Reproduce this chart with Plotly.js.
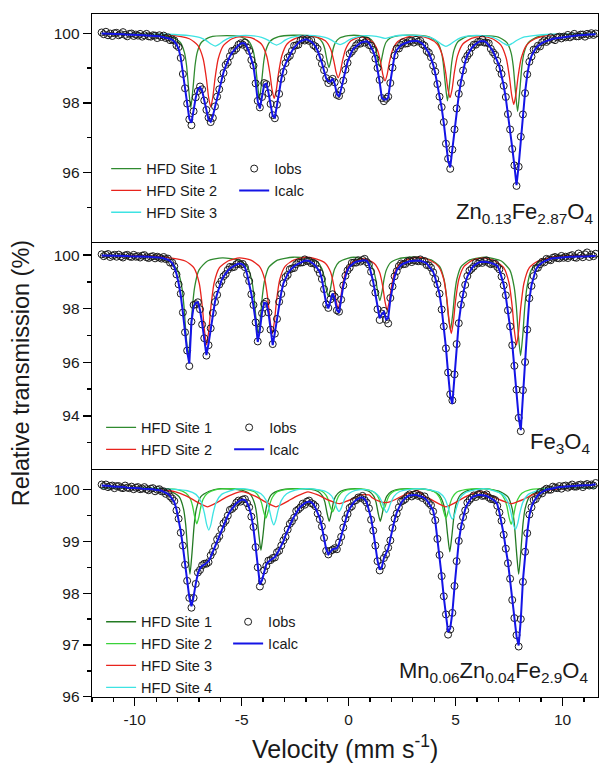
<!DOCTYPE html>
<html>
<head>
<meta charset="utf-8">
<script src="https://cdn.plot.ly/plotly-3.0.1.min.js"></script>
<style>html,body{margin:0;padding:0;background:#fff;}#chart{width:600px;height:763px;}</style>
</head>
<body>
<div id="chart"></div>
<script>
// ---- velocity channel grid (mm/s) ----
const velocityStart = -11.55;
const velocityStep = 0.1;

// ---- Panel 1 : Zn0.13Fe2.87O4 ----
const znIobs = [
100.02,99.97,100.04,99.94,99.99,99.92,100.00,100.01,99.94,99.97,
100.03,99.95,99.91,99.98,99.99,99.92,99.96,99.93,99.98,99.90,
99.94,99.98,99.91,99.90,99.94,99.93,99.86,99.94,99.89,99.93,
99.86,99.88,99.80,99.82,99.79,99.65,99.60,99.29,98.83,98.42,
97.98,97.53,97.36,97.76,98.16,98.34,98.47,98.39,98.07,97.80,
97.58,97.45,97.57,97.90,98.18,98.39,98.67,98.86,99.09,99.16,
99.34,99.49,99.50,99.56,99.67,99.71,99.67,99.73,99.59,99.49,
99.23,99.07,98.56,98.06,97.87,98.17,98.57,98.54,98.28,97.97,
97.65,97.56,97.95,98.26,98.69,98.89,99.14,99.30,99.35,99.49,
99.64,99.65,99.67,99.79,99.83,99.79,99.83,99.78,99.80,99.66,
99.62,99.55,99.31,99.12,98.94,98.71,98.57,98.64,98.69,98.59,
98.23,98.20,98.36,98.64,98.95,99.15,99.41,99.47,99.55,99.65,
99.71,99.70,99.80,99.73,99.78,99.66,99.64,99.52,99.27,99.00,
98.66,98.14,98.05,98.12,98.18,98.57,99.01,99.36,99.56,99.56,
99.66,99.74,99.70,99.71,99.78,99.78,99.73,99.81,99.76,99.78,
99.68,99.64,99.49,99.44,99.31,99.07,98.90,98.54,98.18,97.88,
97.45,96.83,96.40,96.11,96.66,97.24,97.84,98.26,98.57,98.93,
99.24,99.35,99.43,99.59,99.67,99.67,99.75,99.75,99.82,99.73,
99.73,99.71,99.55,99.45,99.38,99.21,98.99,98.83,98.49,98.17,
97.68,97.24,96.68,96.21,95.62,96.17,97.03,97.67,98.28,98.82,
99.18,99.33,99.53,99.53,99.64,99.62,99.74,99.79,99.75,99.80,
99.88,99.83,99.80,99.88,99.90,99.85,99.90,99.88,99.95,99.88,
99.92,99.98,99.91,99.91,99.96,99.96,99.90,99.98,99.95,100.00,
99.95,99.99];
const znIcalc = [
99.99,99.99,99.99,99.98,99.98,99.98,99.98,99.97,99.97,99.97,
99.97,99.96,99.96,99.96,99.96,99.95,99.95,99.95,99.94,99.94,
99.94,99.93,99.93,99.93,99.92,99.92,99.91,99.91,99.90,99.89,
99.88,99.86,99.84,99.81,99.76,99.68,99.55,99.30,98.85,98.40,
97.95,97.55,97.43,97.80,98.15,98.40,98.45,98.35,98.10,97.80,
97.52,97.46,97.62,97.88,98.15,98.42,98.66,98.88,99.05,99.20,
99.34,99.44,99.52,99.59,99.65,99.70,99.72,99.70,99.60,99.45,
99.25,99.05,98.60,98.05,97.84,98.20,98.52,98.55,98.30,97.95,
97.62,97.58,97.90,98.30,98.68,98.95,99.12,99.26,99.38,99.49,
99.58,99.66,99.72,99.77,99.80,99.82,99.82,99.80,99.76,99.70,
99.62,99.50,99.33,99.15,98.92,98.70,98.62,98.61,98.70,98.55,
98.25,98.18,98.40,98.63,98.92,99.18,99.36,99.48,99.57,99.63,
99.68,99.72,99.75,99.77,99.77,99.72,99.62,99.48,99.30,99.00,
98.60,98.15,98.10,98.10,98.15,98.60,99.00,99.38,99.52,99.60,
99.66,99.69,99.72,99.74,99.76,99.77,99.78,99.78,99.77,99.74,
99.70,99.62,99.53,99.43,99.28,99.10,98.85,98.55,98.20,97.86,
97.42,96.85,96.35,96.15,96.65,97.30,97.82,98.22,98.60,98.93,
99.18,99.36,99.48,99.57,99.64,99.70,99.74,99.77,99.78,99.77,
99.73,99.66,99.57,99.48,99.36,99.20,99.04,98.80,98.50,98.13,
97.70,97.22,96.72,96.20,95.64,96.20,96.98,97.68,98.30,98.80,
99.15,99.35,99.48,99.57,99.63,99.68,99.72,99.75,99.78,99.80,
99.82,99.84,99.85,99.86,99.87,99.88,99.89,99.90,99.91,99.92,
99.92,99.93,99.93,99.94,99.94,99.95,99.95,99.95,99.96,99.96,
99.97,99.97];
const znSite1X = [-11.55,-9.5,
-8.28,-7.88,-7.68,-7.58,-7.48,-7.38,-7.28,-7.18,-7.08,-6.88,-6.48,-5.7,
-5.07,-4.67,-4.47,-4.37,-4.27,-4.17,-4.07,-3.97,-3.87,-3.67,-3.27,-2.6,
-1.82,-1.42,-1.22,-1.12,-1.02,-0.92,-0.82,-0.72,-0.62,-0.42,-0.02,0.25,
0.55,0.95,1.15,1.25,1.35,1.45,1.55,1.65,1.75,1.95,2.35,3.0,
3.72,4.12,4.32,4.42,4.52,4.62,4.72,4.82,4.92,5.12,5.52,6.3,
7.0,7.4,7.6,7.7,7.8,7.9,8.0,8.1,8.2,8.4,8.8,9.5,11.55];
const znSite1Y = [99.98,99.97,
99.89,99.74,99.45,99.08,98.40,97.86,98.40,99.08,99.45,99.74,99.89,99.93,
99.90,99.77,99.51,99.18,98.59,98.11,98.59,99.18,99.51,99.77,99.90,99.94,
99.93,99.86,99.73,99.56,99.25,99.01,99.25,99.56,99.73,99.86,99.93,99.94,
99.93,99.86,99.74,99.57,99.28,99.04,99.28,99.57,99.74,99.86,99.93,99.94,
99.90,99.76,99.50,99.16,98.55,98.06,98.55,99.16,99.50,99.76,99.90,99.93,
99.89,99.73,99.43,99.04,98.33,97.76,98.33,99.04,99.43,99.73,99.89,99.96,99.98];
const znSite2X = [-11.55,-8.5,
-7.45,-7.05,-6.8,-6.65,-6.55,-6.45,-6.35,-6.25,-6.1,-5.85,-5.45,-5.0,
-4.48,-4.08,-3.83,-3.68,-3.58,-3.48,-3.38,-3.28,-3.13,-2.88,-2.48,-2.0,
-1.49,-1.09,-0.84,-0.69,-0.59,-0.49,-0.39,-0.29,-0.14,0.11,0.51,
0.70,1.10,1.35,1.50,1.60,1.70,1.80,1.90,2.05,2.30,2.70,3.2,
3.74,4.14,4.39,4.54,4.64,4.74,4.84,4.94,5.09,5.34,5.74,6.25,
6.72,7.12,7.37,7.52,7.62,7.72,7.82,7.92,8.07,8.32,8.72,9.5,11.55];
const znSite2Y = [99.98,99.95,
99.84,99.65,99.26,98.69,98.17,97.88,98.17,98.69,99.26,99.65,99.84,99.90,
99.85,99.69,99.34,98.84,98.38,98.13,98.38,98.84,99.34,99.69,99.85,99.92,
99.89,99.78,99.54,99.20,98.89,98.72,98.89,99.20,99.54,99.78,99.89,
99.88,99.76,99.51,99.15,98.81,98.63,98.81,99.15,99.51,99.76,99.88,99.92,
99.85,99.69,99.35,98.86,98.40,98.15,98.40,98.86,99.35,99.69,99.85,99.90,
99.84,99.66,99.28,98.74,98.24,97.96,98.24,98.74,99.28,99.66,99.84,99.95,99.98];
const znSite3X = [-11.55,-8.5,
-7.44,-6.94,-6.64,-6.44,-6.24,-6.04,-5.84,-5.54,-5.04,
-4.57,-4.07,-3.77,-3.57,-3.37,-3.17,-2.97,-2.67,-2.17,
-1.6,-1.1,-0.8,-0.6,-0.4,-0.2,0.0,0.3,0.8,
1.3,1.7,2.1,2.5,
3.35,3.85,4.15,4.35,4.55,4.75,4.95,5.25,5.75,
6.25,6.75,7.05,7.25,7.45,7.65,7.85,8.15,8.65,9.5,11.55];
const znSite3Y = [99.99,99.97,
99.93,99.87,99.78,99.69,99.63,99.69,99.78,99.87,99.93,
99.93,99.88,99.80,99.71,99.66,99.71,99.80,99.88,99.93,
99.93,99.88,99.80,99.72,99.67,99.72,99.80,99.88,99.93,
99.91,99.85,99.91,99.94,
99.93,99.87,99.77,99.68,99.62,99.68,99.77,99.87,99.93,
99.93,99.88,99.79,99.71,99.65,99.71,99.79,99.88,99.93,99.97,99.99];

// ---- Panel 2 : Fe3O4 ----
const feIobs = [
100.03,99.96,100.01,100.04,99.93,99.98,100.01,99.94,100.02,99.95,
99.91,99.99,100.01,99.95,99.93,100.01,99.94,99.96,99.91,99.98,
100.00,99.92,99.89,99.94,99.96,99.88,99.94,99.91,99.87,99.93,
99.85,99.87,99.72,99.72,99.58,99.28,98.91,98.56,97.86,97.12,
96.44,95.86,97.52,98.14,98.17,98.24,97.98,97.41,96.90,96.25,
96.64,97.27,97.84,98.25,98.52,98.90,99.03,99.21,99.29,99.45,
99.56,99.54,99.56,99.66,99.71,99.65,99.67,99.55,99.27,99.03,
98.54,98.14,97.49,96.78,97.23,97.83,98.18,98.26,97.86,97.22,
96.68,97.07,97.62,98.26,98.55,98.95,99.18,99.26,99.47,99.50,
99.52,99.66,99.73,99.72,99.73,99.84,99.78,99.79,99.70,99.71,
99.66,99.48,99.33,99.11,98.73,98.16,98.03,98.35,98.54,98.45,
97.94,97.89,98.34,98.87,99.23,99.43,99.53,99.71,99.72,99.72,
99.81,99.76,99.82,99.86,99.74,99.65,99.38,98.96,98.60,97.98,
97.58,97.82,97.92,97.59,97.45,98.40,98.83,99.21,99.40,99.59,
99.69,99.66,99.67,99.76,99.80,99.74,99.81,99.80,99.77,99.84,
99.76,99.78,99.63,99.62,99.53,99.36,99.11,98.91,98.56,97.97,
97.34,96.52,95.62,94.81,94.58,95.55,96.68,97.46,98.15,98.53,
98.89,99.22,99.42,99.49,99.57,99.72,99.69,99.75,99.71,99.78,
99.80,99.71,99.66,99.69,99.68,99.56,99.47,99.20,98.87,98.50,
97.94,97.34,96.64,95.87,94.98,93.93,93.43,94.96,96.01,97.22,
98.39,98.85,99.22,99.51,99.53,99.66,99.75,99.73,99.86,99.83,
99.81,99.90,99.93,99.89,99.88,99.97,99.90,99.94,99.89,99.97,
100.00,99.92,99.90,100.06,99.98,99.92,100.03,100.10,99.93,100.02,
99.96,100.05];
const feIcalc = [
99.99,99.99,99.99,99.98,99.98,99.98,99.98,99.98,99.97,99.97,
99.97,99.97,99.97,99.96,99.96,99.96,99.96,99.95,99.95,99.95,
99.94,99.94,99.94,99.93,99.93,99.92,99.92,99.91,99.90,99.88,
99.86,99.83,99.78,99.70,99.55,99.30,98.95,98.50,97.85,97.15,
96.40,95.95,97.50,98.08,98.22,98.24,97.95,97.45,96.85,96.27,
96.70,97.25,97.80,98.26,98.55,98.85,99.05,99.20,99.33,99.42,
99.50,99.56,99.61,99.65,99.68,99.69,99.65,99.55,99.30,98.98,
98.55,98.10,97.55,96.76,97.20,97.85,98.22,98.20,97.85,97.25,
96.64,97.10,97.60,98.20,98.60,98.95,99.15,99.30,99.42,99.52,
99.58,99.64,99.69,99.73,99.76,99.79,99.80,99.78,99.74,99.68,
99.60,99.50,99.38,99.10,98.70,98.20,98.01,98.35,98.57,98.40,
97.95,97.85,98.40,98.85,99.20,99.45,99.57,99.65,99.71,99.75,
99.77,99.79,99.80,99.80,99.79,99.65,99.35,99.00,98.55,98.00,
97.64,97.80,97.88,97.60,97.65,98.35,98.85,99.20,99.44,99.56,
99.63,99.68,99.72,99.75,99.77,99.78,99.79,99.80,99.80,99.79,
99.77,99.74,99.69,99.60,99.50,99.38,99.15,98.85,98.55,98.00,
97.30,96.55,95.60,94.75,94.45,95.55,96.65,97.50,98.10,98.55,
98.95,99.20,99.38,99.50,99.60,99.67,99.71,99.74,99.75,99.75,
99.74,99.73,99.71,99.68,99.65,99.60,99.45,99.20,98.90,98.45,
97.95,97.30,96.70,95.85,94.95,93.95,93.47,94.90,96.00,97.25,
98.35,98.88,99.20,99.45,99.58,99.66,99.72,99.77,99.81,99.85,
99.87,99.88,99.89,99.90,99.91,99.92,99.92,99.93,99.93,99.94,
99.94,99.94,99.95,99.95,99.95,99.96,99.96,99.96,99.96,99.97,
99.97,99.97];
const feSite1X = [-11.55,-9.5,
-8.4,-8.0,-7.8,-7.7,-7.6,-7.5,-7.4,-7.3,-7.2,-7.0,-6.6,-5.9,
-5.13,-4.73,-4.53,-4.43,-4.33,-4.23,-4.13,-4.03,-3.93,-3.73,-3.33,-2.6,
-1.85,-1.45,-1.25,-1.15,-1.05,-0.95,-0.85,-0.75,-0.65,-0.45,-0.05,0.25,
0.56,0.96,1.16,1.26,1.36,1.46,1.56,1.66,1.76,1.96,2.36,3.1,
3.86,4.26,4.46,4.56,4.66,4.76,4.86,4.96,5.06,5.26,5.66,6.4,
7.14,7.54,7.74,7.84,7.94,8.04,8.14,8.24,8.34,8.54,8.94,9.7,11.55];
const feSite1Y = [99.98,99.96,
99.78,99.44,98.81,98.10,96.99,96.25,96.99,98.10,98.81,99.44,99.78,99.90,
99.81,99.55,99.06,98.50,97.63,97.05,97.63,98.50,99.06,99.55,99.81,99.92,
99.88,99.74,99.49,99.20,98.75,98.45,98.75,99.20,99.49,99.74,99.88,99.92,
99.87,99.72,99.44,99.12,98.63,98.30,98.63,99.12,99.44,99.72,99.87,99.93,
99.82,99.57,99.10,98.57,97.75,97.20,97.75,98.57,99.10,99.57,99.82,99.92,
99.78,99.44,98.81,98.10,96.99,96.25,96.99,98.10,98.81,99.44,99.78,99.95,99.98];
const feSite2X = [-11.55,-9.0,
-7.64,-7.24,-6.99,-6.84,-6.74,-6.64,-6.54,-6.44,-6.29,-6.04,-5.64,-5.1,
-4.57,-4.17,-3.92,-3.77,-3.67,-3.57,-3.47,-3.37,-3.22,-2.97,-2.57,-2.0,
-1.49,-1.09,-0.84,-0.69,-0.59,-0.49,-0.39,-0.29,-0.14,0.11,0.51,
0.8,1.2,1.45,1.6,1.7,1.8,1.9,2.0,2.15,2.4,2.8,3.3,
3.8,4.2,4.45,4.6,4.7,4.8,4.9,5.0,5.15,5.4,5.8,6.3,
6.85,7.25,7.5,7.65,7.75,7.85,7.95,8.05,8.2,8.45,8.85,9.8,11.55];
const feSite2Y = [99.98,99.96,
99.78,99.53,98.96,98.07,97.18,96.65,97.18,98.07,98.96,99.53,99.78,99.90,
99.81,99.58,99.09,98.31,97.53,97.07,97.53,98.31,99.09,99.58,99.81,99.92,
99.85,99.70,99.36,98.84,98.31,98.00,98.31,98.84,99.36,99.70,99.85,
99.85,99.69,99.35,98.81,98.27,97.95,98.27,98.81,99.35,99.69,99.85,99.92,
99.81,99.58,99.09,98.31,97.53,97.07,97.53,98.31,99.09,99.58,99.81,99.90,
99.78,99.53,98.96,98.07,97.18,96.65,97.18,98.07,98.96,99.53,99.78,99.96,99.98];

// ---- Panel 3 : Mn0.06Zn0.04Fe2.9O4 ----
const mnIobs = [
100.10,100.07,100.10,100.05,100.07,100.08,100.03,100.07,100.07,100.04,
100.03,100.08,100.04,100.03,100.06,100.01,100.04,100.05,100.01,100.02,
100.05,100.01,99.99,100.02,100.03,99.97,100.00,100.01,99.97,99.97,
99.92,99.95,99.87,99.83,99.78,99.60,99.44,99.17,98.92,98.55,
98.24,97.91,97.72,97.91,98.18,98.40,98.45,98.54,98.57,98.57,
98.60,98.73,98.80,98.91,99.04,99.10,99.24,99.35,99.40,99.50,
99.61,99.63,99.67,99.75,99.79,99.77,99.81,99.82,99.74,99.66,
99.48,99.28,98.89,98.50,98.13,98.23,98.44,98.53,98.63,98.64,
98.68,98.69,98.79,98.82,98.92,99.02,99.09,99.23,99.34,99.39,
99.46,99.59,99.62,99.66,99.73,99.71,99.77,99.79,99.74,99.72,
99.68,99.54,99.43,99.29,99.07,98.82,98.75,98.82,98.84,98.87,
98.85,98.98,99.09,99.27,99.44,99.53,99.65,99.68,99.78,99.80,
99.85,99.84,99.88,99.80,99.75,99.64,99.42,99.21,98.92,98.62,
98.44,98.53,98.68,98.75,98.88,99.02,99.26,99.44,99.54,99.66,
99.77,99.79,99.82,99.88,99.91,99.87,99.90,99.92,99.88,99.89,
99.84,99.87,99.79,99.74,99.70,99.58,99.41,99.05,98.74,98.33,
97.94,97.59,97.20,97.30,97.62,98.14,98.62,99.01,99.29,99.47,
99.60,99.75,99.80,99.84,99.89,99.86,99.91,99.92,99.88,99.89,
99.91,99.85,99.82,99.82,99.80,99.69,99.56,99.40,99.13,98.86,
98.58,98.28,97.87,97.52,97.19,96.97,97.50,98.22,98.80,99.16,
99.52,99.66,99.80,99.82,99.89,99.95,99.93,99.99,100.02,100.00,
100.00,100.06,100.04,100.03,100.07,100.02,100.07,100.08,100.04,100.07,
100.10,100.06,100.06,100.09,100.10,100.05,100.09,100.11,100.08,100.10,
100.08,100.13];
const mnIcalc = [
100.08,100.08,100.07,100.07,100.07,100.06,100.06,100.06,100.05,100.05,
100.05,100.05,100.04,100.04,100.04,100.04,100.03,100.03,100.03,100.02,
100.02,100.02,100.01,100.01,100.01,100.00,100.00,99.99,99.98,99.96,
99.94,99.92,99.88,99.83,99.76,99.62,99.43,99.20,98.90,98.55,
98.22,97.92,97.75,97.93,98.18,98.38,98.48,98.53,98.55,98.58,
98.62,98.70,98.80,98.92,99.02,99.13,99.23,99.33,99.42,99.50,
99.58,99.64,99.69,99.74,99.77,99.80,99.81,99.80,99.75,99.65,
99.50,99.25,98.90,98.50,98.17,98.25,98.43,98.56,98.61,98.64,
98.66,98.70,98.76,98.84,98.92,99.00,99.12,99.22,99.32,99.40,
99.48,99.56,99.62,99.67,99.71,99.74,99.76,99.77,99.76,99.72,
99.65,99.55,99.45,99.28,99.05,98.85,98.75,98.80,98.85,98.86,
98.87,98.95,99.10,99.27,99.42,99.55,99.64,99.71,99.76,99.80,
99.83,99.85,99.85,99.82,99.75,99.62,99.45,99.20,98.90,98.63,
98.46,98.50,98.68,98.76,98.86,99.05,99.25,99.42,99.56,99.66,
99.74,99.80,99.84,99.87,99.89,99.90,99.90,99.90,99.89,99.88,
99.86,99.84,99.80,99.74,99.68,99.60,99.40,99.08,98.72,98.33,
97.92,97.60,97.25,97.32,97.62,98.12,98.65,99.00,99.27,99.48,
99.62,99.72,99.80,99.85,99.87,99.89,99.90,99.90,99.90,99.89,
99.88,99.86,99.84,99.81,99.78,99.72,99.56,99.38,99.14,98.85,
98.60,98.25,97.88,97.52,97.17,96.99,97.49,98.25,98.78,99.16,
99.50,99.67,99.77,99.84,99.89,99.93,99.96,99.98,100.00,100.01,
100.02,100.03,100.04,100.04,100.05,100.05,100.06,100.06,100.06,100.07,
100.07,100.07,100.08,100.08,100.08,100.08,100.09,100.09,100.09,100.09,
100.10,100.10];
const mnSite1X = [-11.55,-9.5,
-8.32,-7.92,-7.72,-7.62,-7.52,-7.42,-7.32,-7.22,-7.12,-6.92,-6.52,-6.0,
-5.0,-4.6,-4.4,-4.3,-4.2,-4.1,-4.0,-3.9,-3.8,-3.6,-3.2,-2.6,
-1.81,-1.41,-1.21,-1.11,-1.01,-0.91,-0.81,-0.71,-0.61,-0.41,-0.01,0.3,
0.58,0.98,1.18,1.28,1.38,1.48,1.58,1.68,1.78,1.98,2.38,3.1,
3.83,4.23,4.43,4.53,4.63,4.73,4.83,4.93,5.03,5.23,5.63,6.3,
7.05,7.45,7.65,7.75,7.85,7.95,8.05,8.15,8.25,8.45,8.85,9.5,11.55];
const mnSite1Y = [100.03,100.03,
99.97,99.86,99.63,99.33,98.80,98.37,98.80,99.33,99.63,99.86,99.97,100.02,
99.99,99.91,99.74,99.53,99.14,98.83,99.14,99.53,99.74,99.91,99.99,100.02,
100.01,99.96,99.87,99.76,99.55,99.39,99.55,99.76,99.87,99.96,100.01,100.02,
100.01,99.96,99.87,99.76,99.55,99.39,99.55,99.76,99.87,99.96,100.01,100.02,
99.99,99.90,99.73,99.51,99.12,98.80,99.12,99.51,99.73,99.90,99.99,100.02,
99.97,99.86,99.63,99.33,98.80,98.37,98.80,99.33,99.63,99.86,99.97,100.03,100.03];
const mnSite2X = [-11.55,-9.5,
-8.0,-7.6,-7.4,-7.3,-7.2,-7.1,-7.0,-6.9,-6.8,-6.6,-6.2,-5.5,
-4.77,-4.37,-4.17,-4.07,-3.97,-3.87,-3.77,-3.67,-3.57,-3.37,-2.97,-2.3,
-1.65,-1.25,-1.05,-0.95,-0.85,-0.75,-0.65,-0.55,-0.45,-0.25,0.15,
0.72,1.12,1.32,1.42,1.52,1.62,1.72,1.82,1.92,2.12,2.52,3.1,
3.65,4.05,4.25,4.35,4.45,4.55,4.65,4.75,4.85,5.05,5.45,6.1,
6.7,7.1,7.3,7.4,7.5,7.6,7.7,7.8,7.9,8.1,8.5,9.5,11.55];
const mnSite2Y = [100.03,100.03,
100.00,99.93,99.82,99.69,99.48,99.34,99.48,99.69,99.82,99.93,100.00,100.02,
100.00,99.95,99.85,99.74,99.57,99.45,99.57,99.74,99.85,99.95,100.00,100.02,
100.01,99.97,99.89,99.80,99.66,99.57,99.66,99.80,99.89,99.97,100.01,
100.01,99.97,99.90,99.82,99.69,99.61,99.69,99.82,99.90,99.97,100.01,100.02,
100.00,99.95,99.85,99.74,99.57,99.45,99.57,99.74,99.85,99.95,100.00,100.02,
100.00,99.93,99.81,99.68,99.47,99.33,99.47,99.68,99.81,99.93,100.00,100.03,100.03];
const mnSite3X = [-11.55,-9.5,
-8.6,-8.1,-7.6,-7.2,-6.9,-6.6,-6.3,-6.0,-5.6,-5.1,
-4.9,-4.4,-4.0,-3.7,-3.4,-3.1,-2.8,-2.4,-1.9,
-1.45,-1.05,-0.75,-0.45,-0.15,0.15,0.55,
0.95,1.12,1.42,1.72,2.02,2.32,2.72,3.22,
3.55,3.95,4.25,4.55,4.85,5.15,5.55,6.05,6.3,
6.6,7.0,7.3,7.6,7.9,8.2,8.6,9.1,10.0,11.55];
const mnSite3Y = [100.03,100.02,
99.99,99.96,99.88,99.79,99.72,99.67,99.72,99.79,99.88,99.96,
99.96,99.88,99.79,99.72,99.67,99.72,99.79,99.88,99.96,
99.90,99.82,99.77,99.73,99.77,99.82,99.90,
99.90,99.84,99.78,99.75,99.78,99.84,99.92,99.98,
99.88,99.79,99.72,99.67,99.72,99.79,99.88,99.96,99.95,
99.90,99.82,99.77,99.73,99.77,99.82,99.90,99.97,100.02,100.03];
const mnSite4X = [-11.55,-9.5,
-7.54,-7.14,-6.89,-6.74,-6.64,-6.54,-6.44,-6.34,-6.19,-5.94,-5.54,-5.0,
-4.5,-4.1,-3.85,-3.7,-3.6,-3.5,-3.4,-3.3,-3.15,-2.9,-2.5,-2.0,
-1.45,-1.05,-0.8,-0.65,-0.55,-0.45,-0.35,-0.25,-0.1,0.15,0.55,
0.77,1.17,1.42,1.57,1.67,1.77,1.87,1.97,2.12,2.37,2.77,3.3,
3.85,4.25,4.5,4.65,4.75,4.85,4.95,5.05,5.2,5.45,5.85,6.3,
6.8,7.2,7.45,7.6,7.7,7.8,7.9,8.0,8.15,8.4,8.8,9.5,11.55];
const mnSite4Y = [100.03,100.03,
99.98,99.91,99.76,99.54,99.33,99.22,99.33,99.54,99.76,99.91,99.98,100.02,
99.99,99.92,99.79,99.60,99.42,99.32,99.42,99.60,99.79,99.92,99.99,100.02,
100.00,99.96,99.88,99.76,99.64,99.58,99.64,99.76,99.88,99.96,100.00,
100.00,99.96,99.87,99.75,99.63,99.56,99.63,99.75,99.87,99.96,100.00,100.02,
99.99,99.94,99.83,99.66,99.51,99.43,99.51,99.66,99.83,99.94,99.99,100.02,
99.98,99.91,99.76,99.54,99.34,99.23,99.34,99.54,99.76,99.91,99.98,100.03,100.03];

// ---- labels ----
const siteNames = ['HFD Site 1','HFD Site 2','HFD Site 3','HFD Site 4'];
const velocityTicks = [-10,-5,0,5,10];
const velocityTickText = ['-10','-5','0','5','10'];
const sampleNames = ['Zn<sub>0.13</sub>Fe<sub>2.87</sub>O<sub>4</sub>','Fe<sub>3</sub>O<sub>4</sub>','Mn<sub>0.06</sub>Zn<sub>0.04</sub>Fe<sub>2.9</sub>O<sub>4</sub>'];

// ---- styling ----
const FONT = 'Arial, "Liberation Sans", Helvetica, sans-serif';
const C_SITE1 = '#2f8a2f', C_SITE1_DARK = '#237a23', C_LIGHTGREEN = '#3ad23a', C_RED = '#e8231c', C_CYAN = '#3ee3e3', C_BLUE = '#1414e6';

function comp(x, y, name, color, ax, leg) {
  return {type:'scatter', mode:'lines', x:x, y:y, name:name, xaxis:'x'+ax, yaxis:'y'+ax, legend:leg,
          line:{color:color, width:1.3, shape:'spline', smoothing:0.6}, hoverinfo:'skip'};
}
function obs(y, ax, leg) {
  return {type:'scatter', mode:'markers', x0:velocityStart, dx:velocityStep, y:y, name:'Iobs', xaxis:'x'+ax, yaxis:'y'+ax, legend:leg,
          marker:{symbol:'circle-open', size:7, color:'#1c1c1c', line:{width:1, color:'#1c1c1c'}}, hoverinfo:'skip'};
}
function calc(y, ax, leg) {
  return {type:'scatter', mode:'lines', x0:velocityStart, dx:velocityStep, y:y, name:'Icalc', xaxis:'x'+ax, yaxis:'y'+ax, legend:leg,
          line:{color:C_BLUE, width:2}, hoverinfo:'skip'};
}

const data = [
  comp(znSite1X, znSite1Y, siteNames[0], C_SITE1, '', 'legend'),
  comp(znSite2X, znSite2Y, siteNames[1], C_RED, '', 'legend'),
  comp(znSite3X, znSite3Y, siteNames[2], C_CYAN, '', 'legend'),
  obs(znIobs, '', 'legend2'),
  calc(znIcalc, '', 'legend2'),
  comp(feSite1X, feSite1Y, siteNames[0], C_SITE1, '2', 'legend3'),
  comp(feSite2X, feSite2Y, siteNames[1], C_RED, '2', 'legend3'),
  obs(feIobs, '2', 'legend4'),
  calc(feIcalc, '2', 'legend4'),
  comp(mnSite1X, mnSite1Y, siteNames[0], C_SITE1_DARK, '3', 'legend5'),
  comp(mnSite2X, mnSite2Y, siteNames[1], C_LIGHTGREEN, '3', 'legend5'),
  comp(mnSite3X, mnSite3Y, siteNames[2], C_RED, '3', 'legend5'),
  comp(mnSite4X, mnSite4Y, siteNames[3], C_CYAN, '3', 'legend5'),
  obs(mnIobs, '3', 'legend6'),
  calc(mnIcalc, '3', 'legend6')
];

const xRange = [-12, 11.66];
function xAxis(anchor, mirror, last) {
  const a = {anchor:anchor, range:xRange, showline:true, mirror:mirror, linecolor:'#000', linewidth:1.3,
             showgrid:false, zeroline:false, fixedrange:true};
  if (last) {
    Object.assign(a, {tickmode:'array', tickvals:velocityTicks, ticktext:velocityTickText, ticks:'outside', ticklen:8, tickwidth:1.3, tickcolor:'#000',
      minor:{dtick:1, tick0:0, ticks:'outside', ticklen:4, tickwidth:1.3, tickcolor:'#000'},
      tickfont:{family:FONT, size:15.5, color:'#1a1a1a'}});
  } else {
    Object.assign(a, {showticklabels:false, ticks:''});
  }
  return a;
}
function yAxis(domain, range, dtick, mdtick) {
  return {domain:domain, range:range, tickmode:'linear', tick0:0, dtick:dtick, ticks:'outside', ticklen:8, tickwidth:1.3, tickcolor:'#000',
          minor:{dtick:mdtick, tick0:0, ticks:'outside', ticklen:4, tickwidth:1.3, tickcolor:'#000'},
          showline:true, mirror:true, linecolor:'#000', linewidth:1.3, showgrid:false, zeroline:false, fixedrange:true,
          tickfont:{family:FONT, size:15.5, color:'#1a1a1a'}};
}
function legendAt(x, y) {
  return {x:x, y:y, xanchor:'left', yanchor:'top', bgcolor:'rgba(0,0,0,0)', borderwidth:0, tracegroupgap:0,
          itemwidth:30, traceorder:'normal', font:{family:FONT, size:14.5, color:'#1a1a1a'}};
}

const layout = {
  width:600, height:763, paper_bgcolor:'#fff', plot_bgcolor:'#fff',
  margin:{l:92, r:2, t:14, b:66},
  font:{family:FONT, color:'#1a1a1a'},
  showlegend:true,
  xaxis: xAxis('y', true, false),
  xaxis2: xAxis('y2', false, false),
  xaxis3: xAxis('y3', false, true),
  yaxis: yAxis([0.6666, 1], [94.02, 100.55], 2, 1),
  yaxis2: yAxis([0.3338, 0.6666], [92.02, 100.5], 2, 1),
  yaxis3: yAxis([0, 0.3338], [95.995, 100.4], 1, 0.5),
  legend: legendAt(0.028, 0.797),
  legend2: legendAt(0.281, 0.797),
  legend3: legendAt(0.018, 0.418),
  legend4: legendAt(0.271, 0.418),
  legend5: legendAt(0.018, 0.1335),
  legend6: legendAt(0.269, 0.1335),
  annotations: [
    {xref:'paper', yref:'paper', x:0.994, y:0.7087, xanchor:'right', yanchor:'middle', showarrow:false,
     text:sampleNames[0], font:{family:FONT, size:22, color:'#1a1a1a'}},
    {xref:'paper', yref:'paper', x:0.988, y:0.372, xanchor:'right', yanchor:'middle', showarrow:false,
     text:sampleNames[1], font:{family:FONT, size:22, color:'#1a1a1a'}},
    {xref:'paper', yref:'paper', x:0.984, y:0.0366, xanchor:'right', yanchor:'middle', showarrow:false,
     text:sampleNames[2], font:{family:FONT, size:22, color:'#1a1a1a'}},
    {xref:'paper', yref:'paper', x:-0.1403, y:0.474, xanchor:'center', yanchor:'middle', showarrow:false, textangle:-90,
     text:'Relative transmission (%)', font:{family:FONT, size:23.5, color:'#1a1a1a'}},
    {xref:'paper', yref:'paper', x:0.5, y:-0.0735, xanchor:'center', yanchor:'middle', showarrow:false,
     text:'Velocity (mm s<sup>-1</sup>)', font:{family:FONT, size:25, color:'#1a1a1a'}}
  ]
};

Plotly.newPlot('chart', data, layout, {staticPlot:true, displayModeBar:false});
</script>
</body>
</html>
